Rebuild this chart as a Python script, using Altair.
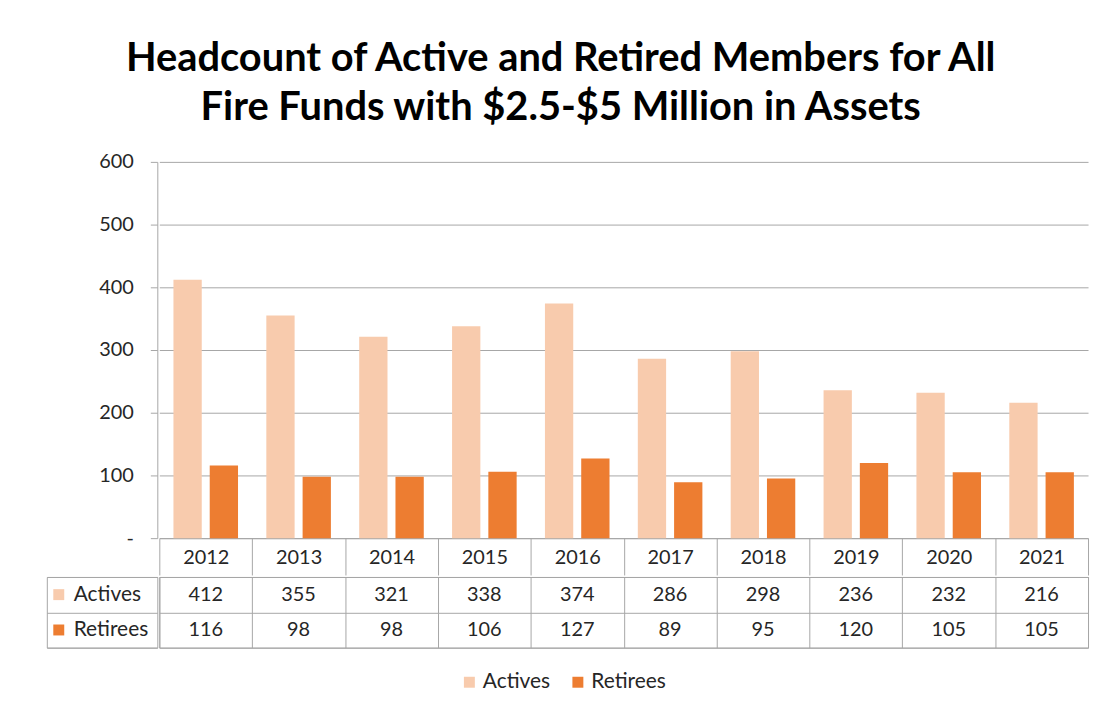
import altair as alt
import pandas as pd

years = ["2012", "2013", "2014", "2015", "2016", "2017", "2018", "2019", "2020", "2021"]
actives = [412, 355, 321, 338, 374, 286, 298, 236, 232, 216]
retirees = [116, 98, 98, 106, 127, 89, 95, 120, 105, 105]
series = ["Actives", "Retirees"]
colors = ["#F8CBAD", "#ED7D31"]
y_ticks = [0, 100, 200, 300, 400, 500, 600]
title_lines = ["Headcount of Active and Retired Members for All",
               "Fire Funds with $2.5-$5 Million in Assets"]

rows = []
for i, yr in enumerate(years):
    rows.append({"year": yr, "series": "Actives", "value": actives[i]})
    rows.append({"year": yr, "series": "Retirees", "value": retirees[i]})
df = pd.DataFrame(rows)
lab = pd.DataFrame({"series": series})

FONT = "Lato"
GRID = "#a6a6a6"
TXT = "#262626"
PW, PH, LW, TH = 933, 378, 111, 71
NUM = 20
WORD = 21

legend = alt.Legend(orient="none", legendX=414, legendY=512, direction="horizontal",
                    title=None, symbolType="square", symbolSize=121, symbolStrokeWidth=0,
                    labelFontSize=WORD, labelFont=FONT, labelColor=TXT, labelOffset=3,
                    columnPadding=17)
color = alt.Color("series:N", scale=alt.Scale(domain=series, range=colors), legend=legend)

xscale = alt.Scale(domain=years, paddingInner=0, paddingOuter=0)
yscale = alt.Scale(domain=[0, 600], nice=False)
rowscale = alt.Scale(domain=series, paddingInner=0, paddingOuter=0)

spacer = alt.Chart(df).mark_rule(opacity=0).encode(
    y=alt.Y("value:Q", scale=yscale,
            axis=alt.Axis(orient="left", offset=-LW, values=y_ticks, grid=False,
                          domain=True, domainColor=GRID, ticks=True, tickColor=GRID,
                          tickSize=7, labelPadding=17, labelFontSize=NUM, labelFont=FONT,
                          labelColor=TXT, title=None,
                          labelExpr="datum.value == 0 ? '-\u00a0\u00a0\u00a0' : datum.label"))
).properties(width=LW, height=PH)

bars = alt.Chart(df).mark_bar().encode(
    x=alt.X("year:N", scale=xscale, sort=years,
            axis=alt.Axis(orient="bottom", title=None, labelAngle=0, tickBand="extent",
                          tickSize=37, tickColor=GRID, domainColor=GRID, labelPadding=-28,
                          labelFontSize=NUM, labelFont=FONT, labelColor=TXT, grid=False)),
    xOffset=alt.XOffset("series:N", scale=alt.Scale(domain=series, paddingInner=0.22,
                                                     paddingOuter=0.39)),
    y=alt.Y("value:Q", scale=yscale,
            axis=alt.Axis(values=y_ticks, grid=True, gridColor=GRID, labels=False,
                          ticks=False, domain=False, title=None)),
    color=color,
).properties(width=PW, height=PH)

tbl = alt.Chart(df).mark_text(fontSize=NUM, font=FONT, color=TXT).encode(
    x=alt.X("year:N", scale=xscale, sort=years,
            axis=alt.Axis(labels=False, ticks=False, domain=False, grid=True,
                          gridColor=GRID, tickBand="extent", title=None)),
    y=alt.Y("series:N", scale=rowscale,
            axis=alt.Axis(labels=False, ticks=False, domain=False, grid=True,
                          gridColor=GRID, tickBand="extent", title=None)),
    text="value:Q",
).properties(width=PW, height=TH, view=alt.ViewBackground(stroke=GRID))

row_axis = alt.Axis(labels=False, ticks=False, domain=False, grid=True,
                    gridColor=GRID, tickBand="extent", title=None)
lab_sq = alt.Chart(lab).mark_square(size=121, opacity=1).encode(
    x=alt.value(12),
    y=alt.Y("series:N", scale=rowscale, axis=row_axis),
    color=color,
)
lab_tx = alt.Chart(lab).mark_text(align="left", fontSize=WORD, font=FONT, color=TXT).encode(
    x=alt.value(27),
    y=alt.Y("series:N", scale=rowscale, axis=row_axis),
    text="series:N",
)
labels = alt.layer(lab_sq, lab_tx).properties(width=LW, height=TH,
                                              view=alt.ViewBackground(stroke=GRID))

top = alt.hconcat(spacer, bars, spacing=0)
bottom = alt.hconcat(labels, tbl, spacing=0)
chart = alt.vconcat(top, bottom, spacing=0).properties(
    title=alt.Title(title_lines, fontSize=40, font=FONT, fontWeight="bold", color="#000000",
                    lineHeight=49, anchor="middle", dx=-7, offset=24),
    padding={"left": 38, "top": 29, "right": 5, "bottom": 5},
    background="white",
).configure_view(stroke="transparent")

chart.save("out.html", embed_options={"renderer": "svg", "actions": False})
